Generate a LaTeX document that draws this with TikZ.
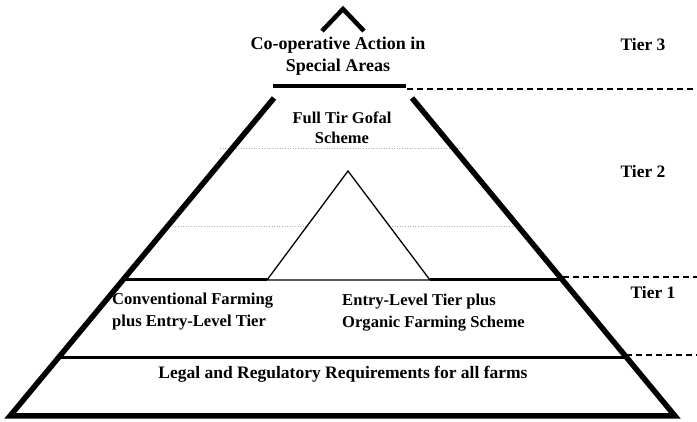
\documentclass[tikz,border=0pt]{standalone}
\usepackage{fontspec}
\setmainfont{Liberation Serif}
\begin{document}
\begin{tikzpicture}[x=1pt,y=-1pt,
  lbl/.style={font=\bfseries\fontsize{17.5}{22}\selectfont, align=center, inner sep=0pt},
  lbll/.style={font=\bfseries\fontsize{16.6}{22}\selectfont, align=left, inner sep=0pt, anchor=west},
  tierlbl/.style={font=\bfseries\fontsize{17.5}{21}\selectfont, inner sep=0pt},
  side/.style={line width=5.5pt, line join=miter},
  band/.style={line width=3pt},
  tierdash/.style={line width=1.4pt, dash pattern=on 6pt off 4pt},
  grid/.style={line width=0.6pt, gray!60, dotted},
  inner/.style={line width=1.3pt, line join=miter}]
\useasboundingbox (0,0) rectangle (697,422);
% coordinates
\coordinate (TL) at (274,98);
\coordinate (TR) at (412,98);
\coordinate (BL) at (10,416);
\coordinate (BR) at (675,416);
\coordinate (M1L) at (124,280);
\coordinate (M1R) at (562,280);
\coordinate (M2L) at (59,358);
\coordinate (M2R) at (626,358);
\coordinate (IA) at (348,171);
\coordinate (IL) at (267,280);
\coordinate (IR) at (430,280);
% grey dotted guides
\draw[grid] (220,148) -- (463,148);
\draw[grid] (165,226) -- (307,226);
\draw[grid] (392,226) -- (518,226);
% caret
\draw[line width=4.5pt, line join=miter] (322,31) -- (343,9) -- (364,31);
% top plate
\coordinate (PL) at (273,86);
\coordinate (PR) at (406,86);
\draw[line width=4pt] (PL) -- (PR);
% pyramid outline
\draw[side] (TL) -- (BL) -- (BR) -- (TR);
% bands
\draw[band] (M1L) -- (IL);
\draw[band] (IR) -- (M1R);
\draw[band] (M2L) -- (M2R);
% inner triangle
\draw[inner] (IL) -- (IA) -- (IR) -- cycle;
% tier dashed lines
\coordinate (D1) at (697,89);
\coordinate (D2s) at (563,277);
\coordinate (D2) at (697,277);
\coordinate (D3s) at (626,355);
\coordinate (D3) at (697,355);
\draw[tierdash] (PR) ++(1,3) -- (D1);
\draw[tierdash] (D2s) -- (D2);
\draw[tierdash] (D3s) -- (D3);
% labels
\node[lbl, font=\bfseries\fontsize{18}{22}\selectfont] (coop) at (338,56) {Co-operative Action in\\Special Areas};
\node[lbl, font=\bfseries\fontsize{16.5}{20}\selectfont] (full) at (342,128) {Full Tir Gofal\\Scheme};
\node[lbll] (conv) at (112,312) {Conventional Farming\\plus Entry-Level Tier};
\node[lbll] (entry) at (342,313) {Entry-Level Tier plus\\Organic Farming Scheme};
\node[lbl] (legal) at (343,374) {Legal and Regulatory Requirements for all farms};
\node[tierlbl] (t3) at (643,45) {Tier 3};
\node[tierlbl] (t2) at (643,172) {Tier 2};
\node[tierlbl] (t1) at (653,293) {Tier 1};
\end{tikzpicture}
\end{document}
